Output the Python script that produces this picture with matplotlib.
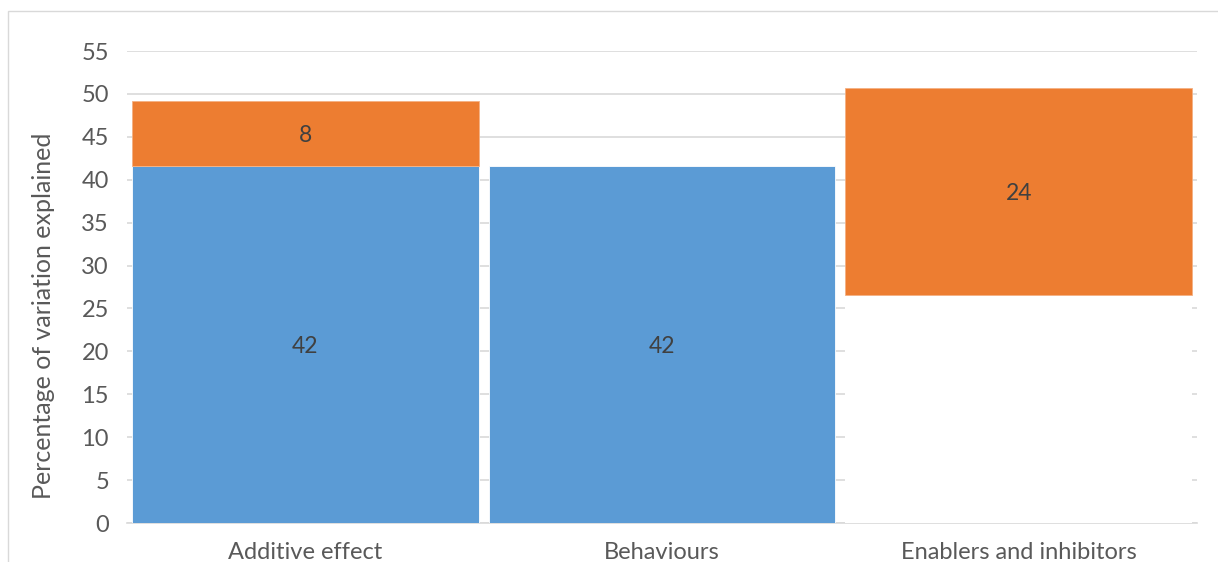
import matplotlib.pyplot as plt
import numpy as np
from matplotlib.patches import Rectangle

# data
categories = ['Additive effect', 'Behaviours', 'Enablers and inhibitors']
blue_vals = [41.6, 41.6, 0.0]       # behaviours part
base_vals = [0.0, 0.0, 26.6]        # invisible spacer (waterfall)
orange_vals = [7.6, 0.0, 24.1]      # enablers/inhibitors part
yticks = list(range(0, 60, 5))

BLUE = '#5b9bd5'
ORANGE = '#ed7d31'
GRID = '#d9d9d9'
TXT = '#595959'

plt.rcParams['font.family'] = ['Lato', 'DejaVu Sans']

fig = plt.figure(figsize=(12.18, 5.62), dpi=100)
W, H = 1218, 562
ax = fig.add_axes([127 / W, 39 / H, 1070 / W, 472 / H])

# outer chart border
fig.patches.append(Rectangle((8 / W, -0.1), 1.2, (H - 11) / H + 0.1,
                             transform=fig.transFigure, fill=False,
                             edgecolor=GRID, linewidth=1.0))

x = np.arange(len(categories))
blue = np.array(blue_vals)
base = np.array(base_vals)
orange = np.array(orange_vals)
w = 0.972

def edge(vals, c):
    return [c if v > 0 else 'none' for v in vals]

ax.bar(x, blue, w, color=BLUE, edgecolor=edge(blue, 'white'), linewidth=0.6, zorder=3)
ax.bar(x, base, w, bottom=blue, color='white', edgecolor='none', zorder=3)
ax.bar(x, orange, w, bottom=blue + base, color=ORANGE,
       edgecolor=edge(orange, '#f4b183'), linewidth=0.6, zorder=3)

for i in range(len(categories)):
    if blue[i] > 0:
        ax.text(x[i], blue[i] / 2, f'{blue[i]:.0f}', ha='center', va='center_baseline',
                fontsize=16.5, color='#404040', zorder=4)
    if orange[i] > 0:
        ax.text(x[i], blue[i] + base[i] + orange[i] / 2, f'{orange[i]:.0f}',
                ha='center', va='center_baseline', fontsize=16.5, color='#404040', zorder=4)

ax.set_xlim(-0.5, 2.5)
ax.set_ylim(0, 55)
ax.set_yticks(yticks)
ax.set_xticks(x)
ax.set_xticklabels(categories)
ax.yaxis.grid(True, color=GRID, linewidth=1.2, zorder=0)
ax.set_axisbelow(True)
for s in ['top', 'right', 'left']:
    ax.spines[s].set_visible(False)
ax.spines['bottom'].set_color(GRID)
ax.spines['bottom'].set_linewidth(1.2)
ax.tick_params(axis='both', length=0, labelsize=17, colors=TXT)
ax.tick_params(axis='x', pad=14)
ax.tick_params(axis='y', pad=13)

ax.set_ylabel('Percentage of variation explained', fontsize=18, color=TXT)
ax.yaxis.set_label_coords(-0.067, 0.439)

fig.savefig('out.png', dpi=100)
